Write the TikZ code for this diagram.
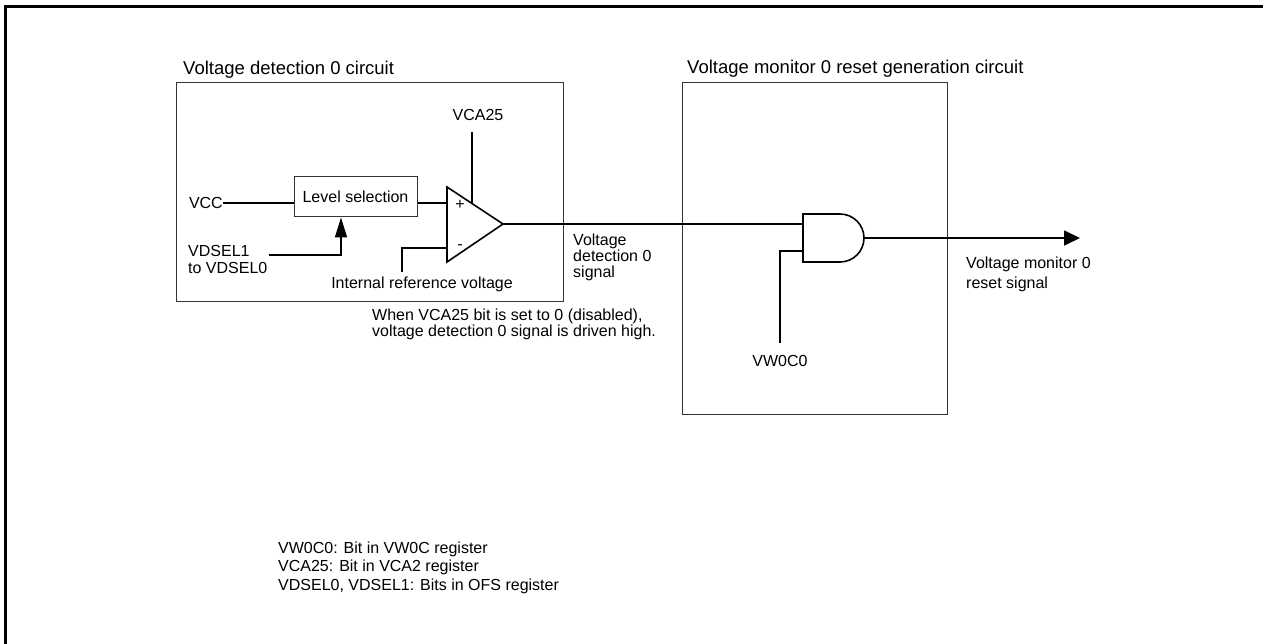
\documentclass[tikz,border=0pt]{standalone}
\usepackage{fontspec}
\setmainfont{Liberation Sans}
\usetikzlibrary{arrows.meta}
\begin{document}
\begin{tikzpicture}[x=1pt,y=-1pt,
  frameline/.style={line width=3pt, line join=miter},
  blockbox/.style={draw=black!80, line width=1pt},
  wire/.style={line width=1.6pt},
  lbl/.style={font=\fontsize{16}{16}\selectfont, inner sep=0pt},
  ttl/.style={font=\fontsize{18.5}{22}\selectfont, inner sep=0pt, anchor=base west}]
\useasboundingbox (0,0) rectangle (1263,644);
\draw[frameline] (5.5,644) -- (5.5,6.5) -- (1263,6.5);

% blocks
\node[blockbox, anchor=north west, minimum width=387pt, minimum height=219pt] (vd) at (176,82) {};
\node[ttl] (vdt) at (183,75) {Voltage detection 0 circuit};
\node[blockbox, anchor=north west, minimum width=265pt, minimum height=332pt] (vm) at (682,82) {};
\node[ttl] (vmt) at (687,74) {Voltage monitor 0 reset generation circuit};

% level selection
\node[blockbox, lbl, minimum width=123pt, minimum height=40pt] (lvl) at (355.5,197) {Level selection};
\node[lbl, anchor=east] (vcc) at (223,203) {VCC};
\node[lbl, anchor=base west, align=left, font=\fontsize{16}{16.5}\selectfont] (vdsel) at (188,273) {VDSEL1\\to VDSEL0};

% comparator
\coordinate (cpp) at (447,203);
\coordinate (cpm) at (447,248);
\coordinate (cpo) at (503,224);
\coordinate (cptop) at (472,203.7);
\draw[wire, line join=miter] (447,187) -- (447,262) -- (cpo) -- cycle;
\node[lbl] (plus) at (460,205) {+};
\node[lbl] (minus) at (460,247) {-};
\node[lbl, anchor=base] (vca) at (478,121) {VCA25};
\node[lbl, anchor=base] (iref) at (422,288) {Internal reference voltage};

\draw[wire] (vcc.east) -- (lvl.west |- vcc.east);
\draw[wire] (lvl.east |- cpp) -- (cpp);
\draw[wire, -{Triangle[length=20pt,width=12pt]}] ([xshift=1pt,yshift=4pt]vdsel.east) -| ([xshift=-14.5pt]lvl.south);
\draw[wire] ([xshift=-20pt,yshift=4pt]iref.north) |- (cpm);
\draw[wire] ([xshift=-6pt,yshift=-11pt]vca.south) -- (cptop);

\node[lbl, anchor=base west, align=left, font=\fontsize{16}{15.5}\selectfont] (note1) at (372,336) {When VCA25 bit is set to 0 (disabled),\\voltage detection 0 signal is driven high.};
\node[lbl, anchor=base west, align=left, font=\fontsize{16}{16}\selectfont] (vdsig) at (573,277) {Voltage\\detection 0\\signal};

% AND gate
\coordinate (and1) at (803,224);
\coordinate (and2) at (803,251);
\coordinate (ando) at (864,238);
\draw[wire] (803,214) -- (840,214) arc[start angle=-90, end angle=90, radius=24] -- (803,262) -- cycle;
\draw[wire] (cpo) -- (and1);
\node[lbl, anchor=base] (vw) at (780,366) {VW0C0};
\draw[wire] ([yshift=11.5pt]vw.north) |- (and2);
\coordinate (outend) at (1080,238);
\draw[wire, -{Triangle[length=16pt,width=15pt]}] (ando) -- (outend);
\node[lbl, anchor=base west, align=left, font=\fontsize{16}{20}\selectfont] (vmsig) at (966,288) {Voltage monitor 0\\reset signal};

% legend
\node[lbl, anchor=base west, align=left, font=\fontsize{16}{18.5}\selectfont] (legend) at (278,590) {VW0C0: Bit in VW0C register\\VCA25: Bit in VCA2 register\\VDSEL0, VDSEL1: Bits in OFS register};
\end{tikzpicture}
\end{document}
